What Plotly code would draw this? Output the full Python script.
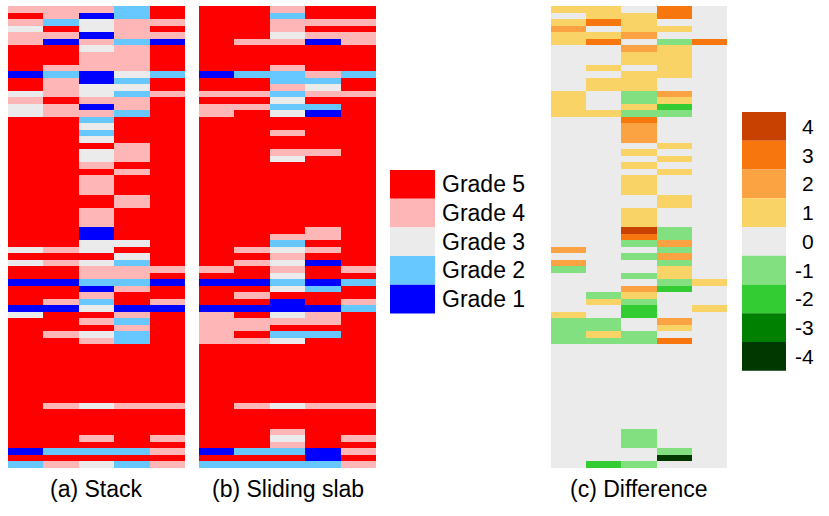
import plotly.graph_objects as go

# ---------------- data ----------------
questions = ["Q1", "Q2", "Q3", "Q4", "Q5"]

stack_grades = [
    [4,4,4,2,5],[5,4,1,2,5],[4,2,3,4,4],[3,5,3,4,5],[4,4,1,4,4],
    [4,1,4,2,1],[5,5,3,4,5],[5,5,4,4,5],[5,5,4,4,5],[5,4,4,4,5],
    [1,2,1,3,2],[5,4,1,2,5],[5,4,3,3,5],[3,4,3,2,4],[4,5,4,4,5],
    [3,4,1,4,5],[3,4,4,2,5],[5,5,2,5,5],[5,5,3,5,5],[5,5,2,5,5],
    [5,5,3,5,5],[5,5,5,4,5],[5,5,3,4,5],[5,5,3,4,5],[5,5,4,5,5],
    [5,5,5,4,5],[5,5,4,5,5],[5,5,4,5,5],[5,5,4,5,5],[5,5,5,4,5],
    [5,5,5,4,5],[5,5,4,5,5],[5,5,4,5,5],[5,5,4,5,5],[5,5,1,5,5],
    [5,5,1,5,5],[5,5,3,3,5],[3,4,3,5,5],[5,5,5,3,5],[3,4,3,2,5],
    [5,5,4,4,4],[5,5,4,4,5],[1,1,2,2,1],[5,5,1,4,5],[5,5,4,5,5],
    [5,4,2,5,4],[1,1,3,1,1],[3,5,5,4,5],[5,5,4,2,5],[5,5,5,4,5],
    [5,4,3,2,5],[5,5,4,2,5],[5,5,5,5,5],[5,5,5,5,5],[5,5,5,5,5],
    [5,5,5,5,5],[5,5,5,5,5],[5,5,5,5,5],[5,5,5,5,5],[5,5,5,5,5],
    [5,5,5,5,5],[5,4,3,4,4],[5,5,5,5,5],[5,5,5,5,5],[5,5,5,5,5],
    [5,5,5,5,5],[5,5,4,5,4],[5,5,5,5,5],[1,2,2,2,4],[5,5,5,5,5],
    [2,4,3,2,4],
]

slab_grades = [
    [5,5,4,5,5],[5,5,2,5,5],[5,5,4,4,4],[5,5,4,5,5],[5,5,3,4,4],
    [5,4,4,1,4],[5,5,5,5,5],[5,5,5,5,5],[5,5,5,5,5],[5,5,4,5,5],
    [1,2,2,4,2],[5,5,2,2,5],[5,5,4,3,5],[4,4,2,4,4],[5,5,3,5,5],
    [4,4,2,2,5],[4,5,3,1,5],[5,5,5,5,5],[5,5,5,5,5],[5,5,4,5,5],
    [5,5,5,5,5],[5,5,5,5,5],[5,5,4,4,5],[5,5,3,5,5],[5,5,5,5,5],
    [5,5,5,5,5],[5,5,5,5,5],[5,5,5,5,5],[5,5,5,5,5],[5,5,5,5,5],
    [5,5,5,5,5],[5,5,5,5,5],[5,5,5,5,5],[5,5,5,5,5],[5,5,5,4,5],
    [5,5,4,4,5],[5,5,2,5,5],[5,4,3,4,5],[5,5,4,5,5],[5,4,3,1,5],
    [4,5,4,5,4],[5,5,3,5,5],[1,1,2,1,2],[5,5,3,2,5],[5,4,5,5,5],
    [5,5,1,5,4],[1,1,1,1,2],[4,5,3,4,5],[4,4,4,4,5],[4,4,5,5,5],
    [4,5,2,2,5],[4,4,3,5,5],[5,5,5,5,5],[5,5,5,5,5],[5,5,5,5,5],
    [5,5,5,5,5],[5,5,5,5,5],[5,5,5,5,5],[5,5,5,5,5],[5,5,5,5,5],
    [5,5,5,5,5],[5,4,3,4,4],[5,5,5,5,5],[5,5,5,5,5],[5,5,5,5,5],
    [5,5,4,5,5],[5,5,3,5,4],[5,5,4,5,5],[1,2,2,1,4],[5,5,5,1,5],
    [2,2,2,2,4],
]

difference = [
    [1,1,0,3,0],[0,1,1,3,0],[1,3,1,0,0],[2,0,1,1,0],[1,1,2,0,0],
    [1,3,0,-1,3],[0,0,2,1,0],[0,0,1,1,0],[0,0,1,1,0],[0,1,0,1,0],
    [0,0,1,1,0],[0,1,1,0,0],[0,1,1,0,0],[1,0,-1,2,0],[1,0,-1,1,0],
    [1,0,1,-2,0],[1,1,-1,-1,0],[0,0,3,0,0],[0,0,2,0,0],[0,0,2,0,0],
    [0,0,2,0,0],[0,0,0,1,0],[0,0,1,0,0],[0,0,0,1,0],[0,0,1,0,0],
    [0,0,0,1,0],[0,0,1,0,0],[0,0,1,0,0],[0,0,1,0,0],[0,0,0,1,0],
    [0,0,0,1,0],[0,0,1,0,0],[0,0,1,0,0],[0,0,1,0,0],[0,0,4,-1,0],
    [0,0,3,-1,0],[0,0,-1,2,0],[2,0,0,-1,0],[0,0,-1,2,0],[2,0,0,-1,0],
    [-1,0,0,1,0],[0,0,-1,1,0],[0,0,0,-1,1],[0,0,2,-2,0],[0,-1,1,0,0],
    [0,1,-1,0,0],[0,0,-2,0,1],[1,0,-2,0,0],[-1,-1,0,2,0],[-1,-1,0,1,0],
    [-1,1,-1,0,0],[-1,-1,-1,3,0],[0,0,0,0,0],[0,0,0,0,0],[0,0,0,0,0],
    [0,0,0,0,0],[0,0,0,0,0],[0,0,0,0,0],[0,0,0,0,0],[0,0,0,0,0],
    [0,0,0,0,0],[0,0,0,0,0],[0,0,0,0,0],[0,0,0,0,0],[0,0,0,0,0],
    [0,0,-1,0,0],[0,0,-1,0,0],[0,0,-1,0,0],[0,0,0,-1,0],[0,0,0,-4,0],
    [0,-2,-1,0,0],
]

grade_levels = [5, 4, 3, 2, 1]
grade_labels = ["Grade 5", "Grade 4", "Grade 3", "Grade 2", "Grade 1"]
diff_levels = [4, 3, 2, 1, 0, -1, -2, -3, -4]
diff_labels = ["4", "3", "2", "1", "0", "-1", "-2", "-3", "-4"]
panel_titles = ["(a) Stack", "(b) Sliding slab", "(c) Difference"]

# ---------------- styles ----------------
grade_colors = {1: "#0000FF", 2: "#66C8FF", 3: "#EBEBEB", 4: "#FFB6B6", 5: "#FF0000"}
diff_colors = {-4: "#003800", -3: "#008000", -2: "#33CC33", -1: "#82E080", 0: "#EBEBEB",
               1: "#F9D366", 2: "#FBA242", 3: "#F7760D", 4: "#C94100"}

W, H = 829, 516
FONT = "Liberation Sans, Arial, sans-serif"


def discrete_scale(levels, colors):
    lv = sorted(levels)
    n = len(lv)
    scale = []
    for i, v in enumerate(lv):
        scale.append([i / n, colors[v]])
        scale.append([(i + 1) / n, colors[v]])
    return scale


def px(x):
    return x / W


def py(y):
    return 1 - y / H


rows = list(range(len(stack_grades)))
fig = go.Figure()

panels = [
    (stack_grades, grade_levels, grade_colors, (8, 185), ""),
    (slab_grades, grade_levels, grade_colors, (199, 376), "2"),
    (difference, diff_levels, diff_colors, (551, 727), "3"),
]
top_px, bot_px = 6, 468

for z, levels, colors, (x0, x1), ax in panels:
    fig.add_trace(go.Heatmap(
        z=z, x=list(range(len(questions))), y=rows,
        colorscale=discrete_scale(levels, colors),
        zmin=min(levels) - 0.5, zmax=max(levels) + 0.5,
        showscale=False, xaxis="x" + ax, yaxis="y" + ax,
        hoverinfo="skip",
    ))
    fig.layout["xaxis" + ax] = dict(domain=[px(x0), px(x1)], range=[-0.5, len(questions) - 0.5],
                                    visible=False, fixedrange=True)
    fig.layout["yaxis" + ax] = dict(domain=[py(bot_px), py(top_px)], range=[len(rows) - 0.5, -0.5],
                                    visible=False, fixedrange=True, anchor="x" + ax)

shapes = []
annotations = []

# grade legend
sw_x0, sw_x1, sw_top, sw_h = 390, 435, 170, 28.7
for i, (lv, lab) in enumerate(zip(grade_levels, grade_labels)):
    y0 = sw_top + i * sw_h
    shapes.append(dict(type="rect", xref="paper", yref="paper",
                       x0=px(sw_x0), x1=px(sw_x1), y0=py(y0), y1=py(y0 + sw_h),
                       fillcolor=grade_colors[lv], line=dict(width=0)))
    annotations.append(dict(text=lab, xref="paper", yref="paper", x=px(440), y=py(y0 + sw_h / 2),
                            xanchor="left", yanchor="middle", showarrow=False,
                            font=dict(family=FONT, size=23, color="#000")))

# difference legend
cb_x0, cb_x1, cb_top, cb_h = 742, 786, 112, 28.75
for i, (lv, lab) in enumerate(zip(diff_levels, diff_labels)):
    y0 = cb_top + i * cb_h
    shapes.append(dict(type="rect", xref="paper", yref="paper",
                       x0=px(cb_x0), x1=px(cb_x1), y0=py(y0), y1=py(y0 + cb_h),
                       fillcolor=diff_colors[lv], line=dict(width=0)))
    annotations.append(dict(text=lab, xref="paper", yref="paper", x=px(816), y=py(y0 + cb_h / 2),
                            xanchor="right", yanchor="middle", showarrow=False,
                            font=dict(family=FONT, size=21, color="#000")))

# captions
for title, (_, _, _, (x0, x1), _) in zip(panel_titles, panels):
    annotations.append(dict(text=title, xref="paper", yref="paper", x=px((x0 + x1) / 2), y=py(489),
                            xanchor="center", yanchor="middle", showarrow=False,
                            font=dict(family=FONT, size=23, color="#000")))

fig.update_layout(
    width=W, height=H, margin=dict(l=0, r=0, t=0, b=0),
    paper_bgcolor="white", plot_bgcolor="white",
    shapes=shapes, annotations=annotations, showlegend=False,
)

fig.write_html("out.html", config={"displayModeBar": False},
               post_script="document.body.style.margin='0';document.body.style.overflow='hidden';")
